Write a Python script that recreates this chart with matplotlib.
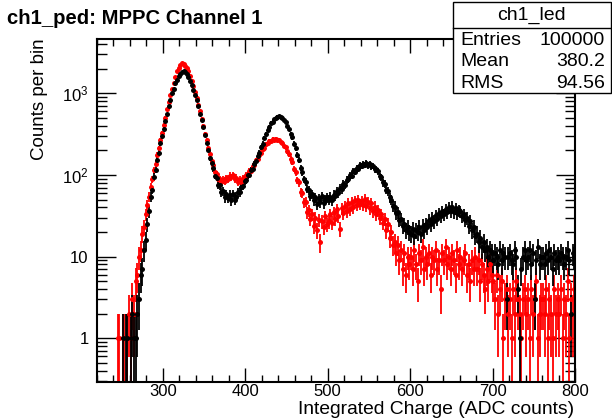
import numpy as np
import matplotlib.pyplot as plt
from matplotlib.patches import Rectangle
from matplotlib.lines import Line2D
from matplotlib.ticker import MultipleLocator, LogLocator, FuncFormatter, NullFormatter

plt.rcParams['font.family'] = ['Liberation Sans', 'DejaVu Sans']
plt.rcParams['mathtext.fontset'] = 'custom'
plt.rcParams['mathtext.rm'] = 'Liberation Sans'
plt.rcParams['mathtext.it'] = 'Liberation Sans:italic'

# histogram binning (ADC counts)
bin_lo, bin_hi, bin_w = 220, 800, 2

# ch1_ped (red), counts per bin, 10 bins per row
ped_counts = [
    0, 0, 0, 0, 0, 0, 0, 0, 0, 0,
    0, 0, 1, 1, 0, 1, 1, 0, 1, 2,
    1, 3, 2, 5, 6, 10, 12, 19, 23, 33,
    43, 54, 72, 88, 114, 138, 177, 212, 268, 327,
    413, 506, 644, 786, 964, 1146, 1356, 1596, 1855, 2046,
    2254, 2326, 2305, 2196, 2054, 1866, 1655, 1437, 1234, 1046,
    884, 726, 604, 487, 403, 321, 268, 212, 183, 147,
    131, 109, 103, 89, 88, 82, 87, 84, 91, 90,
    98, 94, 100, 90, 93, 83, 87, 82, 91, 89,
    99, 100, 111, 113, 127, 132, 151, 157, 178, 187,
    208, 217, 238, 245, 261, 262, 274, 269, 275, 267,
    268, 253, 248, 229, 218, 194, 181, 157, 143, 119,
    108, 86, 81, 62, 60, 46, 47, 35, 37, 29,
    33, 24, 30, 21, 28, 15, 27, 23, 31, 25,
    27, 33, 26, 35, 29, 38, 31, 22, 39, 34,
    42, 36, 45, 38, 47, 40, 49, 43, 50, 44,
    48, 43, 51, 42, 47, 39, 45, 36, 41, 33,
    37, 30, 33, 26, 29, 21, 25, 17, 20, 14,
    15, 11, 14, 9, 12, 7, 11, 6, 10, 8,
    10, 7, 12, 8, 5, 11, 9, 13, 7, 10,
    8, 11, 6, 10, 9, 12, 7, 9, 4, 11,
    9, 13, 8, 10, 7, 11, 9, 6, 12, 8,
    10, 7, 9, 11, 6, 8, 5, 9, 7, 10,
    7, 9, 5, 8, 6, 4, 7, 5, 8, 6,
    5, 3, 6, 2, 4, 5, 1, 3, 4, 2,
    3, 1, 4, 2, 5, 3, 2, 1, 3, 4,
    2, 3, 1, 4, 2, 3, 5, 1, 2, 3,
    3, 2, 4, 1, 3, 2, 1, 4, 2, 3,
    2, 4, 1, 3, 2, 5, 1, 3, 2, 4,
]

# ch1_led (black)
led_counts = [
    0, 0, 0, 0, 0, 0, 0, 0, 0, 0,
    0, 0, 0, 0, 0, 1, 0, 1, 1, 0,
    1, 2, 1, 1, 2, 3, 6, 7, 12, 16,
    25, 36, 54, 66, 95, 115, 152, 186, 244, 297,
    368, 455, 556, 694, 826, 1004, 1146, 1325, 1476, 1624,
    1748, 1835, 1858, 1824, 1736, 1604, 1427, 1272, 1106, 963,
    818, 693, 566, 473, 386, 313, 247, 203, 162, 140,
    121, 98, 93, 76, 75, 62, 63, 53, 58, 52,
    57, 49, 58, 50, 54, 62, 61, 72, 74, 85,
    86, 99, 101, 115, 120, 138, 147, 171, 187, 218,
    242, 283, 316, 358, 392, 434, 451, 484, 497, 518,
    523, 511, 503, 466, 443, 401, 368, 322, 288, 242,
    213, 177, 152, 122, 108, 89, 82, 68, 65, 56,
    58, 49, 53, 44, 52, 46, 55, 45, 50, 53,
    50, 54, 49, 57, 56, 63, 60, 69, 67, 77,
    76, 87, 88, 99, 98, 112, 110, 123, 120, 131,
    128, 137, 132, 140, 131, 136, 127, 129, 118, 117,
    111, 97, 94, 81, 78, 66, 63, 53, 50, 42,
    41, 34, 35, 28, 29, 24, 25, 21, 23, 20,
    19, 22, 18, 21, 20, 23, 19, 24, 21, 25,
    23, 28, 25, 30, 27, 32, 29, 34, 31, 36,
    33, 38, 35, 40, 36, 41, 35, 39, 34, 37,
    36, 31, 33, 28, 30, 24, 27, 21, 23, 18,
    19, 15, 17, 13, 15, 12, 13, 10, 12, 11,
    9, 11, 10, 8, 12, 9, 11, 10, 3, 10,
    11, 9, 8, 12, 10, 4, 1, 7, 10, 12,
    9, 10, 12, 8, 11, 3, 9, 13, 8, 10,
    10, 8, 11, 9, 12, 10, 7, 11, 9, 10,
    9, 11, 10, 8, 10, 12, 9, 2, 11, 10,
]

stats_name = "ch1_led"
stats_rows = [("Entries", "100000"), ("Mean", "380.2"), ("RMS", "94.56")]

centers = np.arange(bin_lo, bin_hi, bin_w) + bin_w / 2

W, H = 612, 418
fig = plt.figure(figsize=(W / 100, H / 100), dpi=100)
ax = fig.add_axes([97 / W, 1 - 382 / H, (575 - 97) / W, (382 - 39) / H])
ax.set_yscale('log')


def draw_hist(counts, col):
    c = np.array(counts, dtype=float)
    m = c > 0
    ax.errorbar(centers[m], c[m], yerr=np.sqrt(c[m]), fmt='o', color=col,
                ms=3.6, mew=0, elinewidth=1.3, capsize=0)


draw_hist(ped_counts, 'red')
draw_hist(led_counts, 'black')

ax.set_xlim(bin_lo, bin_hi)
ax.set_ylim(0.29, 4640)

ax.xaxis.set_major_locator(MultipleLocator(100))
ax.xaxis.set_minor_locator(MultipleLocator(20))
ax.yaxis.set_major_locator(LogLocator(base=10, numticks=10))
ax.yaxis.set_minor_locator(LogLocator(base=10, subs=np.arange(2, 10), numticks=20))
ax.yaxis.set_minor_formatter(NullFormatter())


def ylab(v, pos):
    if v == 1:
        return '1'
    if v == 10:
        return '10'
    return r'$10^{%d}$' % int(round(np.log10(v)))


ax.yaxis.set_major_formatter(FuncFormatter(ylab))
ax.tick_params(which='both', direction='in', top=True, right=True, width=1.0,
               labelsize=12)
ax.tick_params(axis='x', which='major', length=10, pad=1.5)
ax.tick_params(axis='x', which='minor', length=5)
ax.tick_params(axis='y', which='major', length=14, pad=6)
ax.tick_params(axis='y', which='minor', length=7)
for s in ax.spines.values():
    s.set_linewidth(1.5)

fig.text(7 / W, 1 - 18 / H, "ch1_ped: MPPC Channel 1", fontsize=14.6,
         fontweight='bold', ha='left', va='center')
fig.text(574 / W, 1 - 414.3 / H, "Integrated Charge (ADC counts)", fontsize=13.9,
         ha='right', va='baseline')
fig.text(40 / W, 1 - 38 / H, "Counts per bin", fontsize=13.5, rotation=90,
         ha='center', va='top')

# stats box
bx0, bx1, by0, by1 = 453, 610.5, 2, 93
fig.add_artist(Rectangle((bx0 / W, 1 - by1 / H), (bx1 - bx0) / W, (by1 - by0) / H,
                         transform=fig.transFigure, facecolor='white',
                         edgecolor='black', lw=1.0, zorder=5))
fig.add_artist(Line2D([bx0 / W, bx1 / W], [1 - 28 / H, 1 - 28 / H],
                      transform=fig.transFigure, color='black', lw=1.0, zorder=6))
fig.text((bx0 + bx1) / 2 / W, 1 - 15 / H, stats_name, fontsize=14,
         ha='center', va='center', zorder=7)
for i, (k, v) in enumerate(stats_rows):
    yy = 1 - (40.5 + 21.5 * i) / H
    fig.text(460 / W, yy, k, fontsize=14, ha='left', va='center', zorder=7)
    fig.text(605 / W, yy, v, fontsize=14, ha='right', va='center', zorder=7)

fig.savefig('out.png', dpi=100)
